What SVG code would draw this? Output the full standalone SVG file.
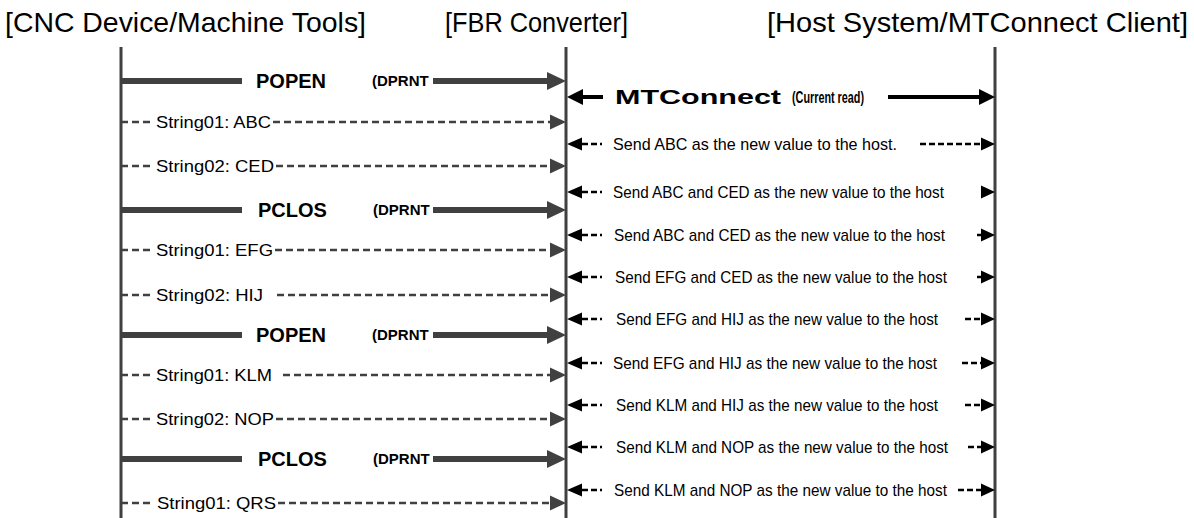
<svg xmlns="http://www.w3.org/2000/svg" width="1194" height="518" viewBox="0 0 1194 518">
<style>
.title{font-family:"Liberation Sans",Arial,sans-serif;font-size:28px;fill:#000}
.life{stroke:#404040;stroke-width:3;fill:none}
.thick{stroke:#404040;stroke-width:6;fill:none}
.gdash{stroke:#404040;stroke-width:2.5;stroke-dasharray:7 4;fill:none}
.bdash{stroke:#000;stroke-width:2.5;stroke-dasharray:6 3;fill:none}
.bline{stroke:#000;stroke-width:4;fill:none}
.ghead{fill:#404040}
.bhead{fill:#000}
.big{font-family:"Liberation Sans",Arial,sans-serif;font-weight:bold;font-size:20px;fill:#000}
.dp{font-family:"Liberation Sans",Arial,sans-serif;font-weight:bold;font-size:15px;fill:#000}
.str{font-family:"Liberation Sans",Arial,sans-serif;font-size:17px;fill:#000}
.send{font-family:"Liberation Sans",Arial,sans-serif;font-size:17px;fill:#000}
.mt{font-family:"Liberation Sans",Arial,sans-serif;font-weight:bold;font-size:21px;fill:#000}
.mts{font-family:"Liberation Sans",Arial,sans-serif;font-weight:bold;font-size:16px;fill:#000}
</style>
<rect width="1194" height="518" fill="#fff"/>
<g id="cnc">
<text class="title" x="5" y="32" textLength="361" lengthAdjust="spacingAndGlyphs">[CNC Device/Machine Tools]</text>
<line class="life" x1="121" y1="47" x2="121" y2="518"/>
</g>
<g id="fbr">
<text class="title" x="445" y="32" textLength="183" lengthAdjust="spacingAndGlyphs">[FBR Converter]</text>
<line class="life" x1="566" y1="47" x2="566" y2="518"/>
</g>
<g id="host">
<text class="title" x="767" y="32" textLength="421" lengthAdjust="spacingAndGlyphs">[Host System/MTConnect Client]</text>
<line class="life" x1="995" y1="47" x2="995" y2="518"/>
</g>
<g id="connectors">
<g>
<line class="thick" x1="121" y1="81" x2="242" y2="81"/><line class="thick" x1="433" y1="81" x2="549" y2="81"/><polygon class="ghead" points="547,72 566,81 547,90"/>
<text class="big" x="256" y="88">POPEN</text><text class="dp" x="372" y="86">(DPRNT</text>
</g>
<g>
<line class="thick" x1="121" y1="210" x2="242" y2="210"/><line class="thick" x1="433" y1="210" x2="549" y2="210"/><polygon class="ghead" points="547,201 566,210 547,219"/>
<text class="big" x="258" y="217">PCLOS</text><text class="dp" x="373" y="215">(DPRNT</text>
</g>
<g>
<line class="thick" x1="121" y1="335" x2="242" y2="335"/><line class="thick" x1="433" y1="335" x2="549" y2="335"/><polygon class="ghead" points="547,326 566,335 547,344"/>
<text class="big" x="256" y="342">POPEN</text><text class="dp" x="372" y="340">(DPRNT</text>
</g>
<g>
<line class="thick" x1="121" y1="459" x2="242" y2="459"/><line class="thick" x1="433" y1="459" x2="549" y2="459"/><polygon class="ghead" points="547,450 566,459 547,468"/>
<text class="big" x="258" y="466">PCLOS</text><text class="dp" x="373" y="464">(DPRNT</text>
</g>
<g>
<line class="gdash" x1="121" y1="122" x2="154" y2="122"/><line class="gdash" x1="273" y1="122" x2="551" y2="122"/><polygon class="ghead" points="550,114.5 566,122 550,129.5"/>
<text class="str" x="156" y="128" textLength="115" lengthAdjust="spacingAndGlyphs">String01: ABC</text>
</g>
<g>
<line class="gdash" x1="121" y1="166" x2="154" y2="166"/><line class="gdash" x1="276" y1="166" x2="551" y2="166"/><polygon class="ghead" points="550,158.5 566,166 550,173.5"/>
<text class="str" x="156" y="172" textLength="118" lengthAdjust="spacingAndGlyphs">String02: CED</text>
</g>
<g>
<line class="gdash" x1="121" y1="250" x2="154" y2="250"/><line class="gdash" x1="275" y1="250" x2="551" y2="250"/><polygon class="ghead" points="550,242.5 566,250 550,257.5"/>
<text class="str" x="156" y="256" textLength="117" lengthAdjust="spacingAndGlyphs">String01: EFG</text>
</g>
<g>
<line class="gdash" x1="121" y1="295" x2="154" y2="295"/><line class="gdash" x1="277" y1="295" x2="551" y2="295"/><polygon class="ghead" points="550,287.5 566,295 550,302.5"/>
<text class="str" x="156" y="301" textLength="107" lengthAdjust="spacingAndGlyphs">String02: HIJ</text>
</g>
<g>
<line class="gdash" x1="121" y1="375" x2="154" y2="375"/><line class="gdash" x1="283" y1="375" x2="551" y2="375"/><polygon class="ghead" points="550,367.5 566,375 550,382.5"/>
<text class="str" x="156" y="381" textLength="116" lengthAdjust="spacingAndGlyphs">String01: KLM</text>
</g>
<g>
<line class="gdash" x1="121" y1="419" x2="154" y2="419"/><line class="gdash" x1="276" y1="419" x2="551" y2="419"/><polygon class="ghead" points="550,411.5 566,419 550,426.5"/>
<text class="str" x="156" y="425" textLength="118" lengthAdjust="spacingAndGlyphs">String02: NOP</text>
</g>
<g>
<line class="gdash" x1="121" y1="503" x2="154" y2="503"/><line class="gdash" x1="278" y1="503" x2="551" y2="503"/><polygon class="ghead" points="550,495.5 566,503 550,510.5"/>
<text class="str" x="157" y="509" textLength="119" lengthAdjust="spacingAndGlyphs">String01: QRS</text>
</g>
<g>
<polygon class="bhead" points="567,97 583,89 583,105"/><line class="bline" x1="582" y1="97" x2="603" y2="97"/>
<line class="bline" x1="888" y1="97" x2="981" y2="97"/><polygon class="bhead" points="979,89 995,97 979,105"/>
<text class="mt" x="615" y="104" textLength="166" lengthAdjust="spacingAndGlyphs">MTConnect</text><text class="mts" x="792" y="103" textLength="72" lengthAdjust="spacingAndGlyphs">(Current read)</text>
</g>
<g>
<polygon class="bhead" points="567,144 582,137.5 582,150.5"/><line class="bdash" x1="582" y1="144" x2="602" y2="144"/>
<line class="bdash" x1="920" y1="144" x2="982" y2="144"/><polygon class="bhead" points="981,137.5 995,144 981,150.5"/>
<text class="send" x="613" y="150" textLength="284" lengthAdjust="spacingAndGlyphs">Send ABC as the new value to the host.</text>
</g>
<g>
<polygon class="bhead" points="567,192 582,185.5 582,198.5"/><line class="bdash" x1="582" y1="192" x2="602" y2="192"/>
<polygon class="bhead" points="981,185.5 995,192 981,198.5"/>
<text class="send" x="613" y="198" textLength="331" lengthAdjust="spacingAndGlyphs">Send ABC and CED as the new value to the host</text>
</g>
<g>
<polygon class="bhead" points="567,235 582,228.5 582,241.5"/><line class="bdash" x1="582" y1="235" x2="602" y2="235"/>
<line class="bdash" x1="977" y1="235" x2="982" y2="235"/><polygon class="bhead" points="981,228.5 995,235 981,241.5"/>
<text class="send" x="614" y="241" textLength="331" lengthAdjust="spacingAndGlyphs">Send ABC and CED as the new value to the host</text>
</g>
<g>
<polygon class="bhead" points="567,277 582,270.5 582,283.5"/><line class="bdash" x1="582" y1="277" x2="602" y2="277"/>
<line class="bdash" x1="977" y1="277" x2="982" y2="277"/><polygon class="bhead" points="981,270.5 995,277 981,283.5"/>
<text class="send" x="615" y="283" textLength="332" lengthAdjust="spacingAndGlyphs">Send EFG and CED as the new value to the host</text>
</g>
<g>
<polygon class="bhead" points="567,319 582,312.5 582,325.5"/><line class="bdash" x1="582" y1="319" x2="602" y2="319"/>
<line class="bdash" x1="965" y1="319" x2="982" y2="319"/><polygon class="bhead" points="981,312.5 995,319 981,325.5"/>
<text class="send" x="616" y="325" textLength="322" lengthAdjust="spacingAndGlyphs">Send EFG and HIJ as the new value to the host</text>
</g>
<g>
<polygon class="bhead" points="567,363 582,356.5 582,369.5"/><line class="bdash" x1="582" y1="363" x2="602" y2="363"/>
<line class="bdash" x1="962" y1="363" x2="982" y2="363"/><polygon class="bhead" points="981,356.5 995,363 981,369.5"/>
<text class="send" x="613" y="369" textLength="324" lengthAdjust="spacingAndGlyphs">Send EFG and HIJ as the new value to the host</text>
</g>
<g>
<polygon class="bhead" points="567,405 582,398.5 582,411.5"/><line class="bdash" x1="582" y1="405" x2="602" y2="405"/>
<line class="bdash" x1="965" y1="405" x2="982" y2="405"/><polygon class="bhead" points="981,398.5 995,405 981,411.5"/>
<text class="send" x="616" y="411" textLength="322" lengthAdjust="spacingAndGlyphs">Send KLM and HIJ as the new value to the host</text>
</g>
<g>
<polygon class="bhead" points="567,447 582,440.5 582,453.5"/><line class="bdash" x1="582" y1="447" x2="602" y2="447"/>
<line class="bdash" x1="968" y1="447" x2="982" y2="447"/><polygon class="bhead" points="981,440.5 995,447 981,453.5"/>
<text class="send" x="616" y="453" textLength="332" lengthAdjust="spacingAndGlyphs">Send KLM and NOP as the new value to the host</text>
</g>
<g>
<polygon class="bhead" points="567,490 582,483.5 582,496.5"/><line class="bdash" x1="582" y1="490" x2="602" y2="490"/>
<line class="bdash" x1="958" y1="490" x2="982" y2="490"/><polygon class="bhead" points="981,483.5 995,490 981,496.5"/>
<text class="send" x="614" y="496" textLength="333" lengthAdjust="spacingAndGlyphs">Send KLM and NOP as the new value to the host</text>
</g>
</g>
</svg>
